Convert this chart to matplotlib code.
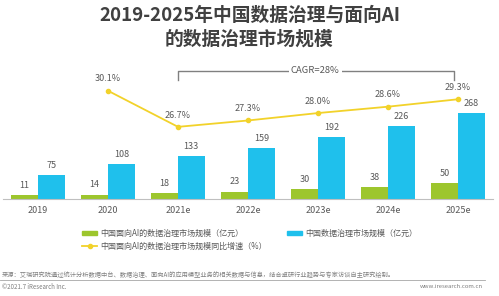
import matplotlib
matplotlib.use("Agg")
import matplotlib.pyplot as plt
import matplotlib.transforms as mtransforms
from matplotlib.patches import Rectangle
from matplotlib.lines import Line2D
import numpy as np

plt.rcParams['font.family'] = ['Noto Sans CJK SC', 'DejaVu Sans']

# 数据
years = ['2019', '2020', '2021e', '2022e', '2023e', '2024e', '2025e']
ai_gov = [11, 14, 18, 23, 30, 38, 50]          # 中国面向AI的数据治理市场规模（亿元）
data_gov = [75, 108, 133, 159, 192, 226, 268]  # 中国数据治理市场规模（亿元）
growth_years = ['2020', '2021e', '2022e', '2023e', '2024e', '2025e']
growth = [30.1, 26.7, 27.3, 28.0, 28.6, 29.3]  # 同比增速（%）

W, H = 499, 296
green = '#9DC62D'
blue = '#1FC0EC'
yellow = '#F2D22A'
txt = '#595959'

fig = plt.figure(figsize=(W / 100, H / 100), dpi=100)

def fx(px):
    return px / W

def fy(py):
    return 1 - py / H

# 标题
fig.text(0.5, fy(15), '2019-2025年中国数据治理与面向AI', ha='center', va='center',
         fontsize=13.5, fontweight='bold', color='#404040')
fig.text(0.5, fy(39), '的数据治理市场规模', ha='center', va='center',
         fontsize=13.5, fontweight='bold', color='#404040')

ax = fig.add_axes([fx(3), fy(199), fx(490), 139 / H])
x = np.arange(len(years))
bw = 0.38
ax.bar(x - bw / 2, ai_gov, bw, color=green)
ax.bar(x + bw / 2, data_gov, bw, color=blue)
ax.set_xlim(-0.5, 6.5)
ax.set_ylim(0, 433)
for i in range(len(years)):
    ax.annotate(str(ai_gov[i]), (x[i] - bw / 2, ai_gov[i]), xytext=(0, 7), textcoords='offset points',
                ha='center', va='center', fontsize=6.5, color=txt)
    ax.annotate(str(data_gov[i]), (x[i] + bw / 2, data_gov[i]), xytext=(0, 7), textcoords='offset points',
                ha='center', va='center', fontsize=6.5, color=txt)

for s in ['top', 'right', 'left']:
    ax.spines[s].set_visible(False)
ax.spines['bottom'].set_color('#BFBFBF')
ax.set_yticks([])
ax.set_xticks(x)
ax.set_xticklabels(years, fontsize=6.5, color=txt)
ax.tick_params(axis='x', length=0, pad=5)

# 同比增速折线
ax2 = ax.twinx()
gx = [years.index(y) for y in growth_years]
ax2.plot(gx, growth, color=yellow, lw=1.3, marker='o', ms=3)
ax2.set_ylim(19.9, 33.0)
ax2.set_yticks([])
for s in ax2.spines.values():
    s.set_visible(False)
for xi, v in zip(gx, growth):
    ax2.annotate(f'{v:.1f}%', (xi, v), xytext=(0, 8.5), textcoords='offset points',
                 ha='center', va='center', fontsize=6.5, color=txt)

# CAGR 括号
tr = mtransforms.blended_transform_factory(ax.transData, ax.transAxes)
ax.plot([2, 2, 5.94, 5.94], [0.856, 0.921, 0.921, 0.856], color='#808080', lw=1,
        transform=tr, clip_on=False)
ax.text(3.96, 0.921, 'CAGR=28%', transform=tr, ha='center', va='center', fontsize=6.8,
        color=txt, bbox=dict(facecolor='white', edgecolor='none', pad=1.5))

# 图例
fig.patches.append(Rectangle((fx(82), fy(235)), fx(15), 4 / H, transform=fig.transFigure,
                             color=green, figure=fig))
fig.text(fx(100), fy(233), '中国面向AI的数据治理市场规模（亿元）', ha='left', va='center',
         fontsize=5.8, color=txt)
fig.patches.append(Rectangle((fx(287), fy(235)), fx(15), 4 / H, transform=fig.transFigure,
                             color=blue, figure=fig))
fig.text(fx(305), fy(233), '中国数据治理市场规模（亿元）', ha='left', va='center',
         fontsize=5.8, color=txt)
fig.lines.append(Line2D([fx(82), fx(97)], [fy(246), fy(246)], transform=fig.transFigure,
                        color=yellow, lw=1.3, figure=fig))
fig.lines.append(Line2D([fx(89.5)], [fy(246)], transform=fig.transFigure, marker='o', ms=3,
                        color=yellow, figure=fig))
fig.text(fx(100), fy(246), '中国面向AI的数据治理市场规模同比增速（%）', ha='left', va='center',
         fontsize=5.8, color=txt)

# 页脚
fig.text(fx(2), fy(275), '来源：艾瑞研究院通过统计分析数据中台、数据治理、面向AI的应用模型业务的相关数据与信息，结合卓研行业趋势与专家访谈自主研究绘制。',
         ha='left', va='center', fontsize=4.5, color='#7F7F7F')
fig.lines.append(Line2D([0, fx(485)], [fy(279.5), fy(279.5)], transform=fig.transFigure,
                        color='#A6A6A6', lw=0.6, figure=fig))
fig.text(fx(2), fy(287), '©2021.7 iResearch Inc.', ha='left', va='center', fontsize=4.4, color='#7F7F7F')
fig.text(fx(483), fy(287), 'www.iresearch.com.cn', ha='right', va='center', fontsize=4.3, color='#7F7F7F')

fig.savefig('out.png', dpi=100)
